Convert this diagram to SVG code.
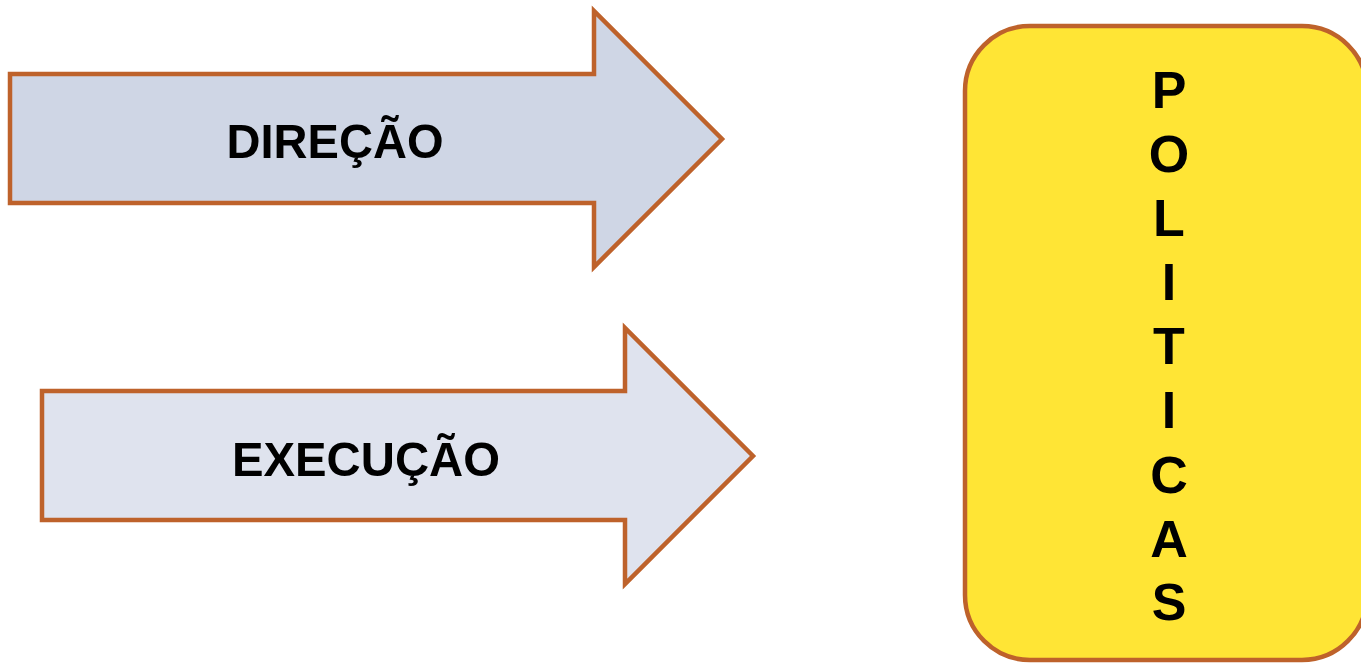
<svg xmlns="http://www.w3.org/2000/svg" width="1361" height="663" viewBox="0 0 1361 663">
<style>
.shape{stroke:#BE622B;stroke-width:4.5;stroke-linejoin:miter}
.lbl{font-family:"Liberation Sans",Arial,sans-serif;font-weight:bold;fill:#000;text-anchor:middle}
.v{font-size:52px}
</style>
<rect width="1361" height="663" fill="#FFFFFF"/>
<g id="direcao">
<polygon class="shape" fill="#CFD6E5" points="10,74 594,74 594,11 722,139 594,267 594,203 10,203"/>
<text class="lbl" x="335" y="158" font-size="49" textLength="217" lengthAdjust="spacingAndGlyphs">DIREÇÃO</text>
</g>
<g id="execucao">
<polygon class="shape" fill="#DFE3EE" points="42,391 625,391 625,328 753,456 625,584 625,520 42,520"/>
<text class="lbl" x="366" y="476" font-size="49" textLength="268" lengthAdjust="spacingAndGlyphs">EXECUÇÃO</text>
</g>
<g id="politicas">
<rect class="shape" fill="#FFE535" x="965" y="26" width="402" height="634" rx="65" ry="65"/>
<text class="lbl v" x="1169" y="108">P</text>
<text class="lbl v" x="1169" y="172">O</text>
<text class="lbl v" x="1169" y="236">L</text>
<text class="lbl v" x="1169" y="300">I</text>
<text class="lbl v" x="1169" y="364">T</text>
<text class="lbl v" x="1169" y="428">I</text>
<text class="lbl v" x="1169" y="493">C</text>
<text class="lbl v" x="1169" y="557">A</text>
<text class="lbl v" x="1169" y="620">S</text>
</g>
<g id="connectors"></g>
</svg>
